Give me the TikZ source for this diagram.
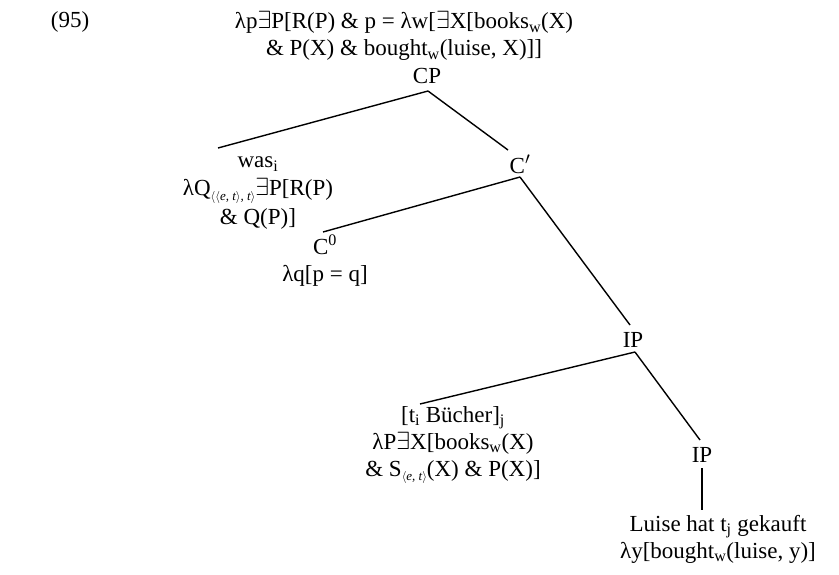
\documentclass[tikz,border=0pt]{standalone}
\usepackage{fontspec}
\setmainfont{Liberation Serif}
\newcommand{\sbw}{\textsubscript{w}}
\newcommand{\ex}{$\exists$}
\newcommand{\tysub}[1]{\raisebox{-0.45ex}{\fontsize{13}{13}\selectfont\itshape #1}}
\newcommand{\tyet}{\tysub{$\langle$e, t$\rangle$}}
\newcommand{\tyett}{\tysub{$\langle\langle$e, t$\rangle$, t$\rangle$}}
\begin{document}
\begin{tikzpicture}[x=1pt,y=-1pt,
  lab/.style={align=center, inner sep=0pt, font=\fontsize{23}{27}\selectfont},
  edge/.style={line width=1.4pt}]
\useasboundingbox (0,0) rectangle (839,574);
\node[lab] (num) at (70,22) {(95)};
\node[lab] (top) at (404,36) {λp\ex P[R(P) \& p = λw[\ex X[books\sbw(X)\\ \& P(X) \& bought\sbw(luise, X)]]};
\node[lab] (cp) at (427,76) {CP};
\node[lab, font=\fontsize{23}{28.5}\selectfont] (was) at (258,193) {was\textsubscript{i}\\ λQ\tyett\ex P[R(P)\\ \& Q(P)]};
\node[lab] (cbar) at (520,164) {C$'$};
\node[lab] (c0) at (325,261) {C\textsuperscript{0}\\ λq[p = q]};
\node[lab] (ip) at (633,340) {IP};
\node[lab] (buch) at (453,445) {[t\textsubscript{i} Bücher]\textsubscript{j}\\ λP\ex X[books\sbw(X)\\ \& S\tyet(X) \& P(X)]};
\node[lab] (ip2) at (702,455) {IP};
\node[lab] (luise) at (718,539) {Luise hat t\textsubscript{j} gekauft\\ λy[bought\sbw(luise, y)]};
\coordinate (cpB) at (428,91);
\coordinate (wasT) at (218,148);
\coordinate (cbarT) at (508,150);
\coordinate (cbarB) at (520,177);
\coordinate (c0T) at (323,232);
\coordinate (ipT) at (630,325);
\coordinate (ipB) at (635,352);
\coordinate (buchT) at (420,404);
\coordinate (ip2T) at (700,440);
\coordinate (ip2B) at (702,468);
\coordinate (luiseT) at (702,510);
\draw[edge] (cpB) -- (wasT);
\draw[edge] (cpB) -- (cbarT);
\draw[edge] (cbarB) -- (c0T);
\draw[edge] (cbarB) -- (ipT);
\draw[edge] (ipB) -- (buchT);
\draw[edge] (ipB) -- (ip2T);
\draw[edge] (ip2B) -- (luiseT);
\end{tikzpicture}
\end{document}
